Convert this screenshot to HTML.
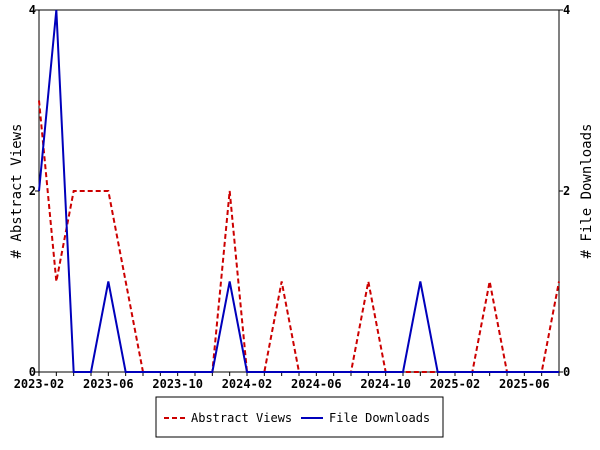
<!DOCTYPE html>
<html><head><meta charset="utf-8"><style>
body{margin:0;background:#fff;}
svg{display:block;font-family:"DejaVu Sans Mono","Liberation Mono",monospace;}
</style></head><body>
<svg width="600" height="450" xmlns="http://www.w3.org/2000/svg">
<g id="plot"></g>
</svg>
<script>
const months=["2023-02","2023-03","2023-04","2023-05","2023-06","2023-07","2023-08","2023-09","2023-10","2023-11","2023-12","2024-01","2024-02","2024-03","2024-04","2024-05","2024-06","2024-07","2024-08","2024-09","2024-10","2024-11","2024-12","2025-01","2025-02","2025-03","2025-04","2025-05","2025-06","2025-07","2025-08"];
const abstractViews=[3,1,2,2,2,1,0,0,0,0,0,2,0,0,1,0,0,0,0,1,0,0,0,0,0,0,1,0,0,0,1];
const fileDownloads=[2,4,0,0,1,0,0,0,0,0,0,1,0,0,0,0,0,0,0,0,0,0,1,0,0,0,0,0,0,0,0];
const xTickLabels=["2023-02","2023-06","2023-10","2024-02","2024-06","2024-10","2025-02","2025-06"];
const yTicks=[0,2,4];
const NS="http://www.w3.org/2000/svg";
const svg=document.querySelector('svg');
const L=39,R=559,T=10,B=372,yMax=4;
const x=i=>L+(R-L)*i/(months.length-1);
const y=v=>B-(B-T)*v/yMax;
function mk(tag,attrs,parent){const e=document.createElementNS(NS,tag);for(const k in attrs)e.setAttribute(k,attrs[k]);(parent||svg).appendChild(e);return e;}
const frame=mk('rect',{x:L,y:T,width:R-L,height:B-T,fill:'none',stroke:'#000','stroke-width':1});


months.forEach((m,i)=>{
  const t=mk('line',{x1:x(i),x2:x(i),y1:B,y2:B+4,stroke:'#000'});
  
  
  const idx=xTickLabels.indexOf(m);
  if(idx>=0){
    const lb=mk('text',{x:x(i),y:B+16,'text-anchor':'middle','font-size':12,'font-weight':'bold'});
    lb.textContent=m;
    
    
  }
});
yTicks.forEach(v=>{
  const a=mk('line',{x1:L-4,x2:L,y1:y(v),y2:y(v),stroke:'#000'});
  
  
  const b=mk('line',{x1:R,x2:R+4,y1:y(v),y2:y(v),stroke:'#000'});
  
  
  const l1=mk('text',{x:L-3,y:y(v)+4,'text-anchor':'end','font-size':12,'font-weight':'bold'});
  l1.textContent=v;
  
  
  const l2=mk('text',{x:R+4,y:y(v)+4,'text-anchor':'start','font-size':12,'font-weight':'bold'});
  l2.textContent=v;
  
  
});
const yt1=mk('text',{transform:'translate(21,191) rotate(-90)','text-anchor':'middle','font-size':14});
yt1.textContent='# Abstract Views';


const yt2=mk('text',{transform:'translate(591,191) rotate(-90)','text-anchor':'middle','font-size':14});
yt2.textContent='# File Downloads';


const pv=mk('polyline',{points:abstractViews.map((v,i)=>x(i)+','+y(v)).join(' '),fill:'none',stroke:'#cc0000','stroke-width':2,'stroke-dasharray':'5,3'});


const pd=mk('polyline',{points:fileDownloads.map((v,i)=>x(i)+','+y(v)).join(' '),fill:'none',stroke:'#0000bb','stroke-width':2});


const lg=mk('g',{});


mk('rect',{x:156,y:397,width:287,height:40,fill:'#fff',stroke:'#000'},lg);
const e1=mk('g',{},lg);


mk('line',{x1:164,x2:186,y1:418,y2:418,stroke:'#cc0000','stroke-width':2,'stroke-dasharray':'5,3'},e1);
const t1=mk('text',{x:191,y:422,'font-size':12},e1);t1.textContent='Abstract Views';
const e2=mk('g',{},lg);


mk('line',{x1:301,x2:323,y1:418,y2:418,stroke:'#0000bb','stroke-width':2},e2);
const t2=mk('text',{x:329,y:422,'font-size':12},e2);t2.textContent='File Downloads';
</script>
</body></html>
